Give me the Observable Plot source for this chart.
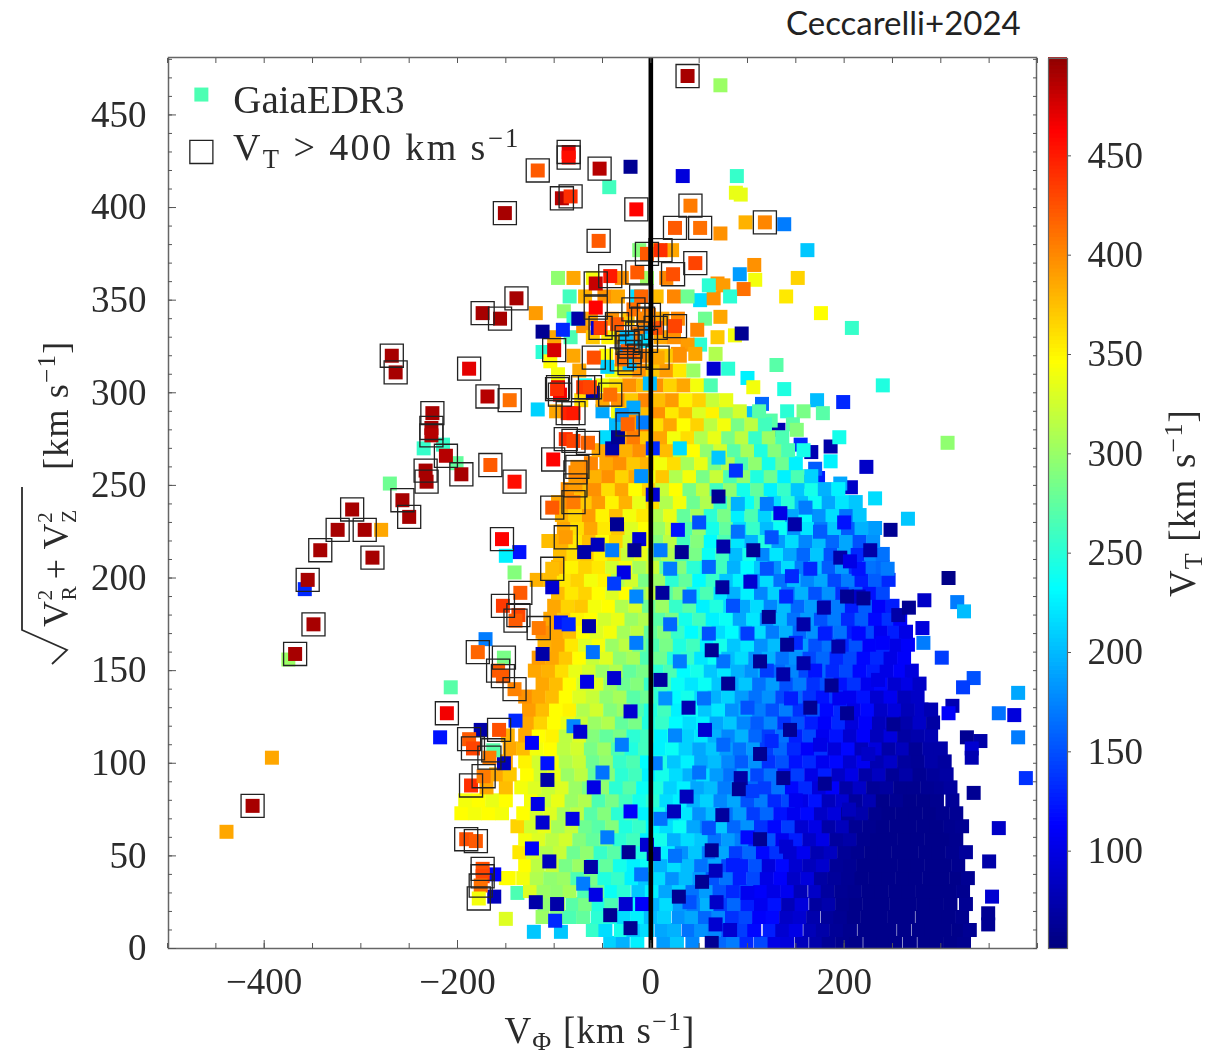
<!DOCTYPE html>
<html><head><meta charset="utf-8">
<script src="https://cdn.jsdelivr.net/npm/d3@7"></script>
<script src="https://cdn.jsdelivr.net/npm/@observablehq/plot@0.6"></script>
<style>
html,body{margin:0;padding:0;background:#fff}
#wrap{position:relative;width:1221px;height:1055px;overflow:hidden}
#wrap svg{position:absolute;top:0}
#wrap svg, #wrap svg text{font-family:"Liberation Serif","DejaVu Serif",serif !important}
#credit{position:absolute;left:786px;top:2px;font:33px Lato,"Open Sans",sans-serif;color:#222;white-space:nowrap}
</style></head><body><div id="wrap"><div id="credit">Ceccarelli+2024</div></div>
<script>
const xTickValues=[-400,-200,0,200];
const yTickValues=[0,50,100,150,200,250,300,350,400,450];
const cbTickValues=[100,150,200,250,300,350,400,450];
const vtStops=[51,112,231,288,345,461,499];
const vtColors=["#000080","#0000ff","#00ffff","#80ff80","#ffff00","#ff0000","#8c0000"];
// each row: Vperp, then pairs of Vphi, VT
const discRows=[
[3,-42,210,-29,195,-14,225,13,185,27,205,43,175,72,160,85,170,99,130,114,145,128,100,141,95,156,80,171,72,184,62,198,58,212,56,227,56,241,56,253,56,268,56,283,56,296,56,310,56,324,58],
[10,-60,255,-47,215,-31,240,-18,205,-4,215,11,190,24,195,39,165,52,180,66,175,80,150,94,140,107,115,123,125,136,90,150,100,165,78,178,70,192,62,206,58,221,56,234,56,247,56,262,56,277,56,290,56,304,56,318,56,330,60],
[17,-112,300,-97,290,-84,265,-70,275,-55,250,-42,245,-28,215,-14,225,0,200,14,210,29,180,42,190,56,160,70,175,84,135,98,145,112,110,126,115,140,85,154,90,168,72,183,64,196,60,210,56,224,56,238,56,252,56,266,56,281,56,294,56,308,56,322,58],
[24,-110,295,-96,310,-81,270,-68,285,-54,245,-41,265,-26,220,-12,235,3,195,16,215,30,185,44,170,58,195,72,140,86,160,100,125,114,105,128,120,142,78,156,95,171,66,184,72,198,58,212,56,226,56,240,56,254,56,268,56,282,56,296,56,310,56,326,60],
[31,-125,330,-111,300,-97,295,-84,305,-69,265,-55,280,-41,235,-28,250,-13,205,1,225,15,190,29,210,43,165,57,185,71,150,85,130,99,150,113,110,127,100,141,105,155,78,170,85,183,66,197,60,211,58,225,56,239,56,253,56,267,56,281,56,295,56,309,56,323,58],
[38,-150,345,-132,340,-118,310,-104,295,-90,300,-76,265,-62,285,-48,245,-34,255,-20,225,-6,205,8,215,22,180,36,200,50,185,64,150,78,165,92,125,106,145,120,100,134,110,148,85,162,95,176,68,190,64,204,60,218,56,232,56,246,56,260,56,274,56,288,56,302,56,316,56,328,60],
[45,-130,345,-117,315,-102,320,-88,285,-74,300,-60,250,-46,275,-32,240,-18,225,-4,235,10,195,24,215,38,200,52,165,66,190,80,145,94,125,108,150,122,95,136,115,150,90,164,80,178,88,192,62,206,60,220,56,234,56,248,56,262,56,276,56,290,56,304,56,318,58],
[52,-136,355,-122,325,-108,310,-94,320,-80,280,-66,295,-52,255,-38,270,-24,230,-10,245,4,210,18,225,32,180,46,205,60,170,74,190,88,140,102,160,116,115,130,135,144,90,158,105,172,75,186,82,200,62,214,58,228,56,242,56,256,56,270,56,284,56,298,56,312,58,326,64],
[59,-130,340,-116,330,-102,315,-88,325,-74,290,-60,275,-46,285,-32,250,-18,260,-4,225,10,240,24,195,38,215,52,205,66,165,80,185,94,170,108,130,122,150,136,105,150,125,164,85,178,100,192,66,206,70,220,58,234,56,248,56,262,56,276,56,290,56,304,56,316,58],
[66,-138,365,-124,325,-110,335,-96,305,-82,320,-68,280,-54,270,-40,290,-26,245,-12,255,2,230,16,215,30,235,44,190,58,175,72,205,86,160,100,180,114,135,128,115,142,140,156,90,170,100,184,70,198,80,212,60,226,58,240,56,254,56,268,56,282,56,296,56,310,58,322,60],
[73,-196,345,-182,340,-168,345,-154,340,-132,345,-118,325,-104,330,-90,305,-76,315,-62,270,-48,290,-34,250,-20,265,-6,225,8,240,22,205,36,220,50,180,64,200,78,165,92,185,106,140,120,160,134,120,148,105,162,115,176,85,190,95,204,65,218,72,232,58,246,56,260,56,274,56,288,56,302,58,316,60],
[80,-192,340,-178,345,-164,335,-150,345,-124,340,-110,320,-96,335,-82,300,-68,310,-54,265,-40,285,-26,260,-12,240,2,250,16,215,30,225,44,195,58,210,72,175,86,190,100,150,114,170,128,130,142,145,156,100,170,120,184,80,198,90,212,65,226,75,240,56,254,60,268,56,282,56,296,58,312,62],
[87,-170,385,-150,375,-134,340,-120,330,-106,320,-92,330,-78,300,-64,285,-50,295,-36,250,-22,270,-8,235,6,245,20,210,34,225,48,190,62,200,76,170,90,185,104,160,118,140,132,165,146,115,160,130,174,95,188,110,202,70,216,85,230,62,244,66,258,58,272,58,286,60,300,62,310,66],
[94,-160,385,-146,370,-128,345,-114,325,-100,335,-86,300,-72,315,-58,275,-44,290,-30,250,-16,260,-2,225,12,240,26,215,40,195,54,215,68,185,82,165,96,190,110,145,124,165,138,120,152,140,166,100,180,125,194,85,208,100,222,70,236,82,250,62,264,70,278,60,292,64,306,68],
[101,-150,385,-130,350,-116,325,-102,340,-88,310,-74,320,-60,280,-46,295,-32,255,-18,265,-4,230,10,245,24,205,38,225,52,190,66,200,80,175,94,155,108,180,122,135,136,150,150,120,164,130,178,105,192,115,206,90,220,105,234,75,248,85,262,66,276,62,290,70,304,66],
[108,-146,385,-132,375,-118,340,-104,345,-90,315,-76,325,-62,285,-48,300,-34,265,-20,245,-6,260,8,225,22,235,36,210,50,190,64,205,78,185,92,165,106,185,120,140,134,160,148,130,162,110,176,135,190,95,204,115,218,80,232,95,246,70,260,80,274,62,288,70,300,70],
[115,-148,380,-130,385,-116,345,-102,350,-88,315,-74,330,-60,290,-46,275,-32,285,-18,250,-4,260,10,225,24,240,38,210,52,220,66,195,80,175,94,195,108,160,122,140,136,165,150,125,164,145,178,105,192,120,206,90,220,110,234,80,248,95,262,68,276,72,290,75],
[122,-128,385,-114,365,-100,345,-86,335,-72,320,-58,300,-44,310,-30,275,-16,285,-2,245,12,255,26,230,40,215,54,225,68,190,82,205,96,175,110,155,124,175,138,135,152,150,166,125,180,110,194,130,208,95,222,110,236,80,250,90,264,72,278,85,292,68],
[129,-126,390,-112,375,-98,345,-84,350,-70,310,-56,325,-42,290,-28,300,-14,265,0,245,14,260,28,225,42,235,56,205,70,220,84,180,98,195,112,170,126,150,140,170,154,135,168,150,182,115,196,130,210,100,224,115,238,85,252,95,266,78,280,85,290,75],
[136,-130,395,-116,385,-102,375,-88,345,-74,330,-60,320,-46,295,-32,305,-18,270,-4,280,10,250,24,230,38,240,52,215,66,195,80,210,94,185,108,165,122,180,136,145,150,160,164,135,178,120,192,140,206,105,220,120,234,90,248,105,262,80,276,85],
[143,-112,385,-98,375,-84,345,-70,325,-56,330,-42,300,-28,280,-14,290,0,255,14,265,28,235,42,220,56,235,70,205,84,190,98,205,112,165,126,185,140,150,154,170,168,135,182,150,196,120,210,135,224,105,238,115,252,90,266,100,278,85],
[150,-120,385,-106,380,-92,360,-78,335,-64,325,-50,300,-36,310,-22,275,-8,285,6,250,20,265,34,230,48,240,62,205,76,220,90,195,104,180,118,195,132,160,146,175,160,145,174,160,188,130,202,145,216,115,230,125,244,100,258,110,270,95],
[157,-116,390,-102,385,-88,370,-74,345,-60,320,-46,330,-32,295,-18,305,-4,265,10,280,24,245,38,255,52,220,66,235,80,200,94,215,108,180,122,195,136,165,150,180,164,145,178,160,192,130,206,145,220,115,234,130,248,100,262,110],
[164,-110,380,-96,385,-82,355,-68,330,-54,340,-40,300,-26,315,-12,280,2,265,16,285,30,245,44,260,58,225,72,240,86,205,100,220,114,180,128,200,142,170,156,185,170,150,184,165,198,130,212,150,226,110,240,130,254,100,266,110],
[171,-112,395,-98,385,-84,375,-70,345,-56,330,-42,340,-28,305,-14,315,0,275,14,290,28,255,42,230,56,250,70,215,84,230,98,195,112,215,126,170,140,195,154,160,168,180,182,145,196,165,210,125,224,145,238,105,252,125,264,100],
[178,-104,385,-90,370,-76,350,-62,345,-48,325,-34,335,-20,300,-6,310,8,270,22,285,36,240,50,260,64,225,78,235,92,190,106,220,120,175,134,200,148,165,162,185,176,150,190,170,204,130,218,155,232,115,246,135,258,110],
[185,-100,385,-86,365,-72,370,-58,340,-44,345,-30,310,-16,325,-2,280,12,300,26,255,40,270,54,225,68,245,82,215,96,190,110,215,124,175,138,200,152,160,166,185,180,145,194,170,208,125,222,155,236,110,250,125],
[192,-96,375,-82,355,-68,365,-54,345,-40,330,-26,345,-12,300,2,315,16,270,30,290,44,240,58,265,72,220,86,195,100,225,114,175,128,210,142,165,156,195,170,150,184,180,198,135,212,160,226,120,240,145],
[199,-118,380,-104,375,-90,355,-76,365,-62,340,-48,350,-34,310,-20,325,-6,285,8,300,22,250,36,275,50,230,64,255,78,205,92,225,106,180,120,215,134,165,148,200,162,175,176,190,190,145,204,170,218,125,232,155,246,130],
[206,-96,380,-82,350,-68,365,-54,355,-40,325,-26,340,-12,305,2,320,16,270,30,290,44,250,58,235,72,260,86,195,100,230,114,205,128,180,142,215,156,170,170,200,184,155,198,185,212,135,226,165,240,160],
[213,-94,375,-80,360,-66,370,-52,350,-38,360,-24,320,-10,335,4,295,18,310,32,265,46,285,60,235,74,260,88,200,102,240,116,175,130,220,144,190,158,160,172,205,186,150,200,190,214,130,228,175,240,165],
[220,-106,375,-92,380,-78,355,-64,375,-50,345,-36,365,-22,325,-8,340,6,290,20,315,34,260,48,290,62,230,76,265,90,220,104,195,118,245,132,185,146,215,160,175,174,200,188,160,202,190,216,150,230,180],
[227,-90,385,-76,360,-62,385,-48,355,-34,370,-20,330,-6,345,8,300,22,325,36,265,50,295,64,240,78,275,92,215,106,255,120,200,134,235,148,180,162,220,176,170,190,205,204,155,218,195,232,185],
[234,-92,380,-78,365,-64,390,-50,350,-36,375,-22,340,-8,355,6,310,20,335,34,275,48,305,62,250,76,285,90,225,104,265,118,210,132,245,146,190,160,230,174,180,188,215,202,165,216,205],
[241,-96,385,-82,395,-68,370,-54,390,-40,350,-26,380,-12,335,2,360,16,310,30,340,44,280,58,310,72,255,86,290,100,235,114,270,128,215,142,250,156,200,170,235,184,190,198,220,212,205],
[248,-86,395,-72,375,-58,395,-44,360,-30,385,-16,345,-2,365,12,320,26,345,40,285,54,315,68,260,82,295,96,240,110,275,124,225,138,255,152,205,166,240,180,195,194,225],
[255,-72,395,-58,380,-44,395,-30,365,-16,385,-2,340,12,370,26,310,40,340,54,285,68,320,82,265,96,295,110,245,124,280,138,225,152,265,166,210],
[262,-62,400,-46,385,-32,395,-18,370,-4,380,10,340,24,360,38,305,52,335,66,285,80,310,94,265,108,295,122,240,136,280,150,225],
[269,-54,385,-40,405,-26,380,-12,395,2,350,16,375,30,320,44,345,58,295,72,325,86,270,100,305,114,245,128,290,142,265,158,240],
[276,-46,215,-32,385,-18,405,-4,370,10,385,24,340,38,360,52,310,66,335,80,285,94,315,108,255,122,300,136,265],
[283,-36,200,-22,390,-8,405,6,360,20,385,34,345,48,365,62,315,76,340,90,285,104,315,118,260],
[290,-50,190,-34,340,-20,395,-6,375,8,395,22,355,36,375,50,330,64,350,78,300,92,325,112,270],
[296,-72,360,-50,385,-34,395,-20,370,-6,400,8,375,22,390,36,350,50,365,64,320,78,335],
[304,-68,240,-50,340,-36,360,-22,395,-8,375,6,395,20,365,34,385,48,340,62,265],
[312,-74,385,-40,340,-26,370,-12,395,2,370,16,390,30,355,44,300],
[320,-80,385,-46,345,-30,375,-16,215,2,390,16,370,30,395],
[330,-60,370,-44,350,-30,385,-18,200,-6,195,10,385,24,395],
[340,-80,250,-62,385,-40,395,-24,370,-8,210,12,385,28,400],
[352,-84,260,-68,380,-48,395,-34,385,-14,215,6,375,24,400,38,280],
[362,-96,295,-80,385,-60,340,-30,395,-4,300,16,400],
[377,-12,290,6,330,22,385]
];
// blue stars sprinkled through the cloud, partly covered in the picture
const blueStars=[[50,230,150],[90,225,165],[125,222,150],[175,225,155],[20,205,170],[60,206,160],[120,205,150],[165,205,130],[215,205,120],[40,190,160],[85,185,150],[140,190,130],[180,170,125],[240,165,110],[20,175,160],[60,170,150],[100,170,140],[150,165,130],[215,170,115],[30,155,170],[75,155,165],[120,150,140],[170,150,120],[235,145,100],[15,135,180],[55,135,165],[100,130,150],[145,135,125],[195,135,105],[25,115,175],[75,110,160],[125,112,130],[175,110,100],[225,105,85],[5,100,170],[50,95,165],[105,85,140],[150,80,105],[205,75,80],[10,70,165],[60,65,150],[100,60,115],[140,55,90],[25,50,165],[85,45,125],[40,25,150],[100,30,105],[-10,40,165],[-45,60,170],[-70,35,170],[-50,95,165],[-80,120,175],[-30,110,170],[-60,160,165],[-15,165,170],[-40,215,170],[-15,190,175],[10,215,170],[-10,255,180],[30,270,215],[70,265,205],[90,240,195],[120,240,170],[160,238,170],[200,230,120],[215,190,85],[245,205,170]];
// scattered low-VT stars lying on top of the cloud
const darkStars=[[70,244,60],[149,229,70],[134,235,100],[106,215,60],[75,217,70],[32,214,60],[227,215,70],[196,211,70],[206,209,100],[74,195,65],[12,192,65],[103,198,90],[146,201,130],[203,190,60],[220,189,60],[122,179,60],[158,175,70],[179,184,70],[256,180,70],[267,184,60],[63,161,60],[113,155,60],[141,164,60],[158,154,70],[194,163,70],[187,142,60],[137,148,70],[80,143,60],[10,145,65],[39,130,75],[165,130,60],[203,127,60],[144,118,60],[56,118,90],[113,105,60],[251,121,60],[93,92,70],[137,92,60],[180,89,60],[91,86,60],[37,82,80],[74,72,65],[24,74,80],[63,53,60],[113,59,60],[67,42,80],[53,36,60],[29,28,60],[68,25,85],[67,13,90],[82,10,90],[63,3,60],[3,51,70],[-4,56,90],[-35,229,60],[-55,218,80],[-69,214,70],[-12,221,90],[-17,215,60],[-102,195,90],[-28,203,100],[-38,197,140],[-93,176,120],[-85,175,130],[-64,174,70],[-112,159,70],[-38,146,90],[-66,144,100],[-21,128,90],[-140,123,130],[-176,118,70],[-73,117,90],[-123,111,110],[-152,100,80],[-107,100,120],[-59,87,100],[-107,91,70],[-117,78,100],[-81,70,100],[-112,68,90],[-21,74,110],[-123,54,110],[-23,52,60],[-62,44,70],[-105,47,80],[-57,29,100],[-119,25,70],[-97,24,70],[-162,28,80],[-42,18,60],[-21,11,60],[-99,15,130],[-26,24,90],[-9,24,110],[-162,40,110],[88,258,135],[-55,335,90],[-25,322,175],[-40,270,70],[-34,276,60],[-60,300,65],[-75,340,70],[-112,333,60],[-91,334,130],[-1,305,200],[-18,292,190],[-45,314,210],[-3,335,190],[2,270,130],[2,245,90],[28,226,120],[-8,284,170],[-30,288,180]];
const plainStars=[[-207,141,270],[-150,16,330],[-121,9,205],[-93,9,205],[-138,30,265],[-147,38,345],[-218,114,120],[-171,167,170],[-358,194,130],[-375,156,300],[-392,103,385],[-439,63,385],[-136,214,120],[-150,212,225],[-141,203,290],[-279,226,385],[-235,270,255],[-215,272,255],[-270,251,280],[-201,262,275],[-43,411,260],[-21,422,60],[33,417,95],[89,417,255],[88,408,335],[93,407,335],[98,392,380],[138,391,170],[72,386,395],[162,377,205],[107,369,395],[92,364,185],[108,361,340],[152,362,365],[140,352,355],[176,343,345],[208,335,255],[96,356,410],[69,359,395],[75,358,390],[82,352,250],[51,350,215],[65,351,395],[60,358,250],[72,341,385],[56,340,280],[69,330,370],[87,331,340],[94,332,60],[51,326,250],[67,321,310],[48,334,400],[38,326,390],[46,321,385],[28,321,395],[65,313,90],[80,313,250],[130,315,270],[100,308,225],[240,304,245],[138,302,245],[106,303,340],[115,294,160],[172,296,200],[199,295,130],[178,289,270],[158,290,285],[141,290,250],[307,273,295],[186,271,70],[195,276,240],[166,268,75],[155,272,130],[223,260,85],[186,263,225],[207,249,85],[196,251,190],[232,243,215],[157,252,80],[173,254,125],[170,259,155],[120,264,130],[131,262,215],[147,283,270],[132,280,75],[110,277,300],[151,280,290],[106,289,200],[75,290,215],[89,289,290],[124,285,270],[266,232,205],[248,226,60],[380,138,190],[360,127,165],[376,126,95],[380,114,170],[388,92,135],[360,65,85],[353,28,90],[349,19,60],[349,13,60],[350,47,70],[334,84,60],[341,112,70],[327,114,60],[332,108,90],[332,103,75],[308,200,55],[317,187,170],[324,182,200],[283,188,85],[301,157,140],[334,146,150],[323,141,140],[312,131,75],[308,127,110],[282,165,170],[281,173,95],[72,466,300],[-119,343,390],[-100,330,385],[-90,344,295],[-83,330,265],[-70,336,395],[-112,322,250],[-104,317,345],[-96,310,340],[-98,290,385],[-117,291,210]];
const boxedStars=[[38,471,490],[-85,430,470],[-85,427,455],[-117,420,420],[-53,421,485],[-92,405,485],[-83,406,440],[-151,397,490],[-15,399,460],[-54,382,420],[41,401,405],[25,389,420],[51,389,410],[118,392,400],[10,377,440],[-4,375,420],[46,370,430],[23,364,425],[-14,365,420],[-42,363,450],[-57,359,480],[-57,346,460],[-174,343,490],[-156,340,490],[-139,351,490],[-100,323,475],[-268,320,490],[-264,311,490],[-188,313,470],[-169,298,485],[-146,296,410],[-226,289,490],[-227,281,490],[-227,277,485],[-212,266,485],[-196,256,490],[-233,258,490],[-232,252,490],[-166,261,420],[-141,252,455],[-257,242,490],[-250,233,490],[-309,237,490],[-324,226,490],[-296,226,490],[-342,215,490],[-288,211,490],[-355,199,490],[-349,175,490],[-368,159,490],[-412,77,490],[-154,221,460],[-135,192,420],[-153,185,435],[-137,180,430],[-140,177,420],[-116,173,405],[-179,160,415],[-152,157,285],[-158,150,420],[-153,147,420],[-141,140,402],[-211,127,465],[-188,113,420],[-184,108,430],[-157,118,425],[-163,107,270],[-167,103,405],[-186,88,440],[-173,93,405],[-191,59,425],[-181,58,420],[-174,43,425],[-174,39,430],[-176,34,410],[-178,27,340],[-52,335,435],[-35,337,420],[-21,325,205],[-24,327,420],[-22,316,200],[-59,319,425],[-96,303,470],[-94,299,465],[-97,302,440],[-70,303,435],[-63,303,430],[-86,289,445],[-80,289,450],[-88,275,440],[-80,274,430],[-65,273,415],[-24,283,415],[-42,299,410],[-101,264,460],[-78,257,400],[-76,260,395],[-78,250,390],[-102,238,420],[-80,241,405],[-88,222,390],[-102,205,375],[25,336,430],[5,335,425],[-2,342,405],[7,319,385],[-10,352,415],[-18,345,410],[-14,332,405],[-5,328,215],[-25,330,200],[-12,320,405],[-22,322,420],[-30,318,410],[-8,340,400]];
const legendStar=[{x:-465,y:461,vt:265}];
const legendBox=[{x:-465,y:430}];
const legendName=["GaiaEDR3"];

const discStars=discRows.flatMap(r=>{const out=[];for(let i=1;i<r.length;i+=2)out.push([r[i],r[0],r[i+1]]);return out;});
const allStars=[...plainStars,...discStars,...blueStars,...darkStars,...boxedStars];

const colorScale={type:"linear",domain:vtStops,range:vtColors};
const ink="#2b2b2b";

const xMinor=d3.range(-500,401,50), yMinor=d3.range(0,481,10);
const main=Plot.plot({
  width:1221,height:1055,marginLeft:168,marginRight:185,marginTop:57,marginBottom:107,
  style:{background:"transparent",filter:"blur(0.5px)"},
  x:{domain:[-499,399]},y:{domain:[0,481]},color:colorScale,
  marks:[
    Plot.dot(allStars,{x:d=>d[0],y:d=>d[1],fill:d=>d[2],symbol:"square",r:7.9,clip:"frame"}),
    Plot.dot(boxedStars,{x:d=>d[0],y:d=>d[1],stroke:"#222",strokeWidth:1.3,fill:"none",symbol:"square",r:13}),
    Plot.ruleX([0],{stroke:"#000",strokeWidth:4.6}),
    Plot.dot(legendStar,{x:"x",y:"y",fill:"vt",symbol:"square",r:7.9}),
    Plot.dot(legendBox,{x:"x",y:"y",stroke:"#222",strokeWidth:1.3,fill:"white",symbol:"square",r:13}),
    Plot.text(legendName,{x:-432,y:458,text:d=>d,textAnchor:"start",fontSize:39,fill:ink,style:"letter-spacing:2px"}),
    Plot.frame({stroke:"#666",strokeWidth:1.5}),
    Plot.axisX({anchor:"bottom",ticks:xMinor,tickSize:-5,tickFormat:()=>"",label:null,stroke:"#555"}),
    Plot.axisX({anchor:"top",ticks:xMinor,tickSize:-5,tickFormat:()=>"",label:null,stroke:"#555"}),
    Plot.axisY({anchor:"left",ticks:yMinor,tickSize:-4,tickFormat:()=>"",label:null,stroke:"#555"}),
    Plot.axisY({anchor:"right",ticks:yMinor,tickSize:-4,tickFormat:()=>"",label:null,stroke:"#555"}),
    Plot.axisY({anchor:"left",ticks:yTickValues,tickSize:-8,tickPadding:30,tickFormat:d=>d,label:null,fontSize:37,stroke:"#555",fill:ink}),
    Plot.axisX({anchor:"bottom",ticks:xTickValues,tickSize:-8,tickPadding:27,tickFormat:d=>d<0?"\u2212"+(-d):d,label:null,fontSize:37,stroke:"#555",fill:ink})
  ]
});
main.style.left="0";
document.getElementById("wrap").appendChild(main);

const colorbar=Plot.plot({
  width:181,height:1055,marginLeft:8,marginRight:154,marginTop:58,marginBottom:107,
  style:{background:"transparent",filter:"blur(0.5px)",overflow:"visible"},
  x:{domain:[0,1],axis:null},y:{domain:[51,499]},color:colorScale,
  marks:[
    Plot.rect(d3.range(51,499,2),{x1:0,x2:1,y1:d=>d,y2:d=>d+2.4,fill:d=>d}),
    Plot.frame({stroke:"#666",strokeWidth:1.2}),
    Plot.axisY({anchor:"right",ticks:cbTickValues,tickSize:3,tickPadding:17,tickFormat:d=>d,label:null,fontSize:37,stroke:"#555",fill:ink})
  ]
});
colorbar.style.left="1040px";
document.getElementById("wrap").appendChild(colorbar);

// typeset labels, kept as real text
const overlay=d3.select("#wrap").append("svg").attr("width",1221).attr("height",1055).style("left",0).style("filter","blur(0.4px)");
function runs(x,y,rot,parts,size,anchor,spacing){
  const t=overlay.append("text").attr("transform",`translate(${x},${y}) rotate(${rot})`)
    .attr("font-size",size).attr("fill",ink).attr("text-anchor",anchor||"middle").attr("letter-spacing",spacing||0);
  for(const [s,shift,scale,back] of parts){
    const sp=t.append("tspan").text(s).attr("font-size",size*(scale||1));
    if(shift) sp.attr("dy",shift);
    if(back) sp.attr("dx",back);
  }
  return t;
}
runs(233,160,0,[["V",0],["T",8,.7],[" > 400 km s",-8],["\u22121",-13,.7]],38,"start",2.4);
runs(600,1043,0,[["V",0],["\u03A6",7,.7],[" [km s",-7],["\u22121",-13,.7],["]",13]],37,"middle",1.2);
runs(1195,503,-90,[["V",0],["T",7,.7],[" [km s",-7],["\u22121",-13,.7],["]",13]],37,"middle",1.2);
runs(68,627,-90,[["V",0],["R",8,.6],["2",-24,.6,-15],[" + V",16],["Z",8,.6],["2",-24,.6,-14]],36,"start",0.6);
runs(68,470,-90,[["[km s",0],["\u22121",-13,.7],["]",13]],36,"start",1.2);
overlay.append("path").attr("d","M22,487V630L67,650L52,664").attr("fill","none").attr("stroke",ink).attr("stroke-width",1.8);
</script></body></html>
